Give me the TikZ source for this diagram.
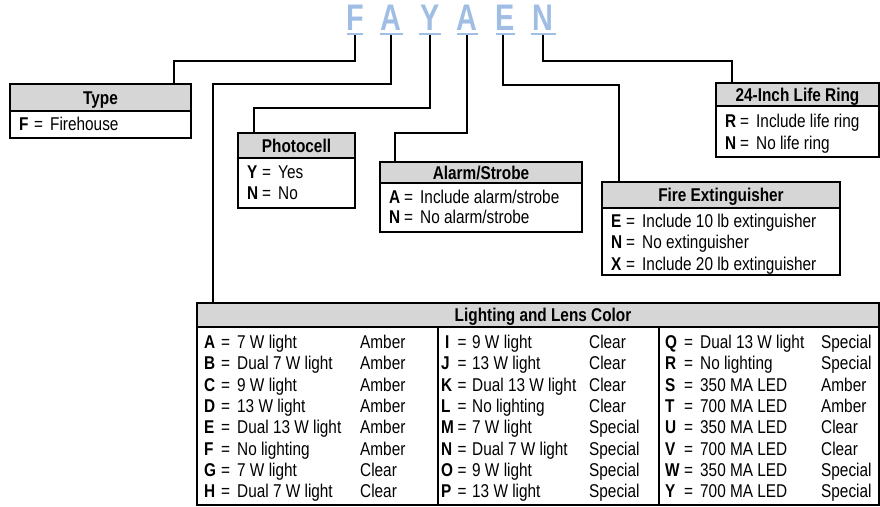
\documentclass[tikz,border=0pt]{standalone}
\usepackage{fontspec}
\setmainfont{Liberation Sans}[FakeStretch=0.83]
\newfontfamily\bigletterfont{Liberation Sans}[FakeStretch=0.78]
\definecolor{hdrgray}{RGB}{214,214,214}
\definecolor{codeblue}{RGB}{160,190,228}
\newcommand\optrow[5]{%
  \node[txt] (#1k) at (#2,#3) {\textbf{#4}};
  \node[txt] (#1e) at (#2+15,#3) {=};
  \node[txt] (#1d) at (#2+31,#3) {#5};}
\begin{document}
\begin{tikzpicture}[x=1pt,y=-1pt,
  conn/.style={line width=2pt},
  hdrbox/.style={draw, line width=1.1pt, fill=hdrgray, anchor=north west, inner sep=0, outer sep=0},
  bodybox/.style={draw, line width=1.1pt, anchor=north west, inner sep=0, outer sep=0},
  hdrtxt/.style={inner sep=0, anchor=base, font=\fontsize{18.5}{22}\selectfont\bfseries},
  txt/.style={inner sep=0, anchor=base west, font=\fontsize{18.5}{22}\selectfont},
  bigl/.style={inner sep=0, anchor=base, text=codeblue, font=\fontsize{37}{40}\selectfont\bigletterfont\bfseries},
  uline/.style={draw=codeblue, line width=2pt}]
\useasboundingbox (0,0) rectangle (880,506);

% code letters
\foreach \n/\l/\x/\w in {F/F/355/8, A1/A/391/11.5, Y/Y/430/11, A2/A/467/10.5, E/E/505/9.5, N/N/543/12.5}{
  \node[bigl] (l\n) at (\x,30) {\l};
  \draw[uline] (\x-\w,34) -- (\x+\w,34);
}
\coordinate (sF) at (355,35);
\coordinate (sA1) at (391,35);
\coordinate (sY) at (430,35);
\coordinate (sA2) at (467,35);
\coordinate (sE) at (503,35);
\coordinate (sN) at (543,35);

% Type
\node[hdrbox, minimum width=181pt, minimum height=27pt] (typeh) at (10,84) {};
\node[bodybox, minimum width=181pt, minimum height=27pt] (typeb) at (typeh.south west) {};
\node[hdrtxt] (typet) at (100.5,104.5) {Type};
\optrow{tF}{19}{130.5}{F}{Firehouse}

% Photocell
\node[hdrbox, minimum width=117pt, minimum height=25pt] (photoh) at (238,133) {};
\node[bodybox, minimum width=117pt, minimum height=50pt] (photob) at (photoh.south west) {};
\node[hdrtxt] (photot) at (296.5,152) {Photocell};
\optrow{pY}{247}{178.5}{Y}{Yes}
\optrow{pN}{247}{199.5}{N}{No}

% Alarm/Strobe
\node[hdrbox, minimum width=202pt, minimum height=21pt] (alarmh) at (380,162) {};
\node[bodybox, minimum width=202pt, minimum height=49pt] (alarmb) at (alarmh.south west) {};
\node[hdrtxt] (alarmt) at (481,179) {Alarm/Strobe};
\optrow{aA}{389}{203.5}{A}{Include alarm/strobe}
\optrow{aN}{389}{223.5}{N}{No alarm/strobe}

% Fire Extinguisher
\node[hdrbox, minimum width=238pt, minimum height=26pt] (fireh) at (602,182) {};
\node[bodybox, minimum width=238pt, minimum height=67pt] (fireb) at (fireh.south west) {};
\node[hdrtxt] (firet) at (721,201.5) {Fire Extinguisher};
\optrow{fE}{611}{227.5}{E}{Include 10 lb extinguisher}
\optrow{fN}{611}{248.5}{N}{No extinguisher}
\optrow{fX}{611}{270.5}{X}{Include 20 lb extinguisher}

% Life ring
\node[hdrbox, minimum width=163pt, minimum height=23pt] (ringh) at (716,83) {};
\node[bodybox, minimum width=163pt, minimum height=51pt] (ringb) at (ringh.south west) {};
\node[hdrtxt] (ringt) at (797.5,101) {24-Inch Life Ring};
\optrow{rR}{725}{127.5}{R}{Include life ring}
\optrow{rN}{725}{149.5}{N}{No life ring}

% Lighting and Lens Color
\node[hdrbox, minimum width=682pt, minimum height=24pt] (lighth) at (197,303) {};
\node[bodybox, minimum width=682pt, minimum height=178pt] (lightb) at (lighth.south west) {};
\node[hdrtxt] (lightt) at (543,321.5) {Lighting and Lens Color};
\coordinate (div1) at (438,327);
\coordinate (div2) at (659,327);
\draw[line width=1.1pt] (div1) -- (div1 |- lightb.south);
\draw[line width=1.1pt] (div2) -- (div2 |- lightb.south);

\foreach \k/\e/\d/\c [count=\i] in {A/17/7 W light/Amber, B/17/Dual 7 W light/Amber, C/17/9 W light/Amber,
   D/17/13 W light/Amber, E/17/Dual 13 W light/Amber, F/17/No lighting/Amber, G/17/7 W light/Clear,
   H/17/Dual 7 W light/Clear}{
  \node[txt] (ca\i k) at (204,348.5+21.3*\i-21.3) {\textbf{\k}};
  \node[txt] (ca\i e) at (204+\e,348.5+21.3*\i-21.3) {=};
  \node[txt] (ca\i d) at (237,348.5+21.3*\i-21.3) {\d};
  \node[txt] (ca\i c) at (360,348.5+21.3*\i-21.3) {\c};
}
\foreach \k/\e/\d/\c [count=\i] in {I/4/9 W light/Clear, J/0/13 W light/Clear, K/0/Dual 13 W light/Clear,
   L/0/No lighting/Clear, M/0/7 W light/Special, N/0/Dual 7 W light/Special, O/0/9 W light/Special,
   P/0/13 W light/Special}{
  \node[txt] (cb\i k) at (441+\e,348.5+21.3*\i-21.3) {\textbf{\k}};
  \node[txt] (cb\i e) at (457.5,348.5+21.3*\i-21.3) {=};
  \node[txt] (cb\i d) at (472,348.5+21.3*\i-21.3) {\d};
  \node[txt] (cb\i c) at (589,348.5+21.3*\i-21.3) {\c};
}
\foreach \k/\e/\d/\c [count=\i] in {Q/19/Dual 13 W light/Special, R/19/No lighting/Special, S/19/350 MA LED/Amber,
   T/19/700 MA LED/Amber, U/19/350 MA LED/Clear, V/19/700 MA LED/Clear, W/19/350 MA LED/Special,
   Y/19/700 MA LED/Special}{
  \node[txt] (cc\i k) at (665,348.5+21.3*\i-21.3) {\textbf{\k}};
  \node[txt] (cc\i e) at (665+\e,348.5+21.3*\i-21.3) {=};
  \node[txt] (cc\i d) at (700,348.5+21.3*\i-21.3) {\d};
  \node[txt] (cc\i c) at (821,348.5+21.3*\i-21.3) {\c};
}

% connectors
\draw[conn] (sF) -- (355,61) -| (typeh.north west -| 174,0);
\draw[conn] (sA1) -- (391,84) -| (lighth.north west -| 213,0);
\draw[conn] (sY) -- (430,108) -| (photoh.north west -| 254,0);
\draw[conn] (sA2) -- (467,133) -| (alarmh.north west -| 395,0);
\draw[conn] (sE) -- (503,85) -| (fireh.north west -| 619,0);
\draw[conn] (sN) -- (543,61) -| (ringh.north west -| 732,0);
\end{tikzpicture}
\end{document}
